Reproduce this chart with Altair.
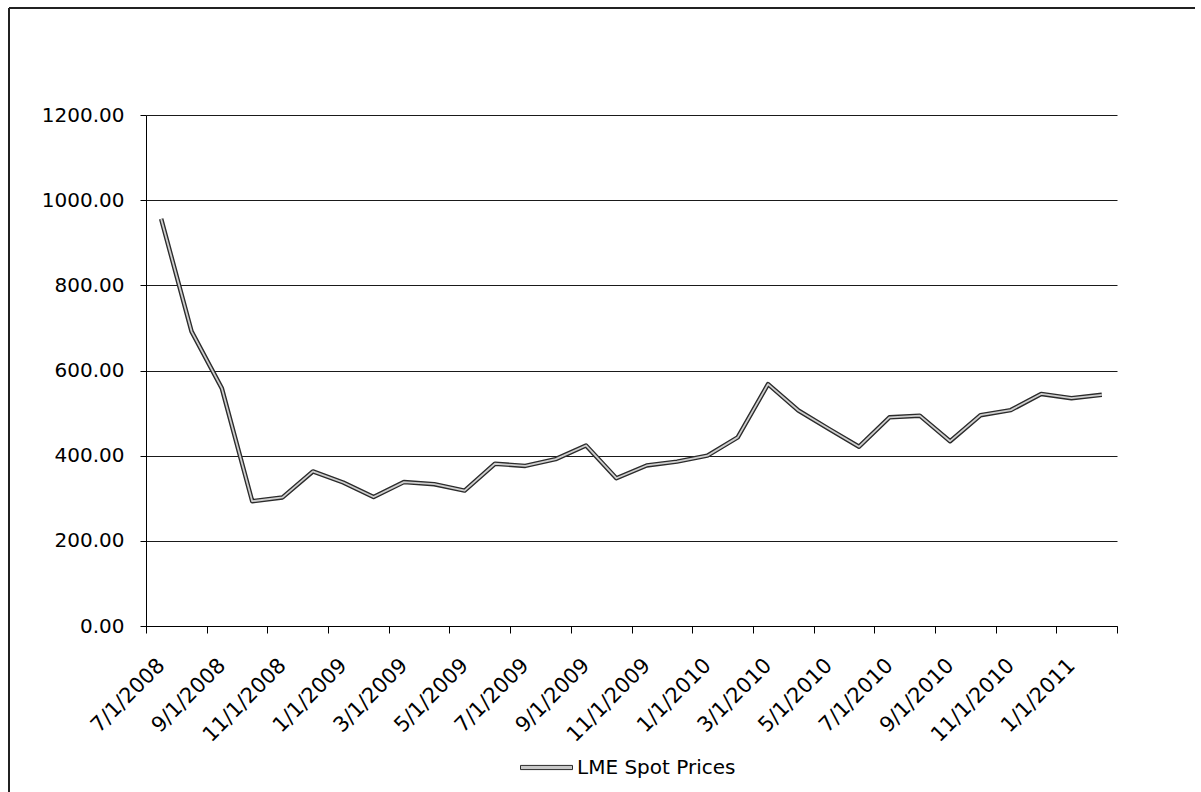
import json
import altair as alt
import pandas as pd

months = ["7/1/2008", "8/1/2008", "9/1/2008", "10/1/2008", "11/1/2008", "12/1/2008",
          "1/1/2009", "2/1/2009", "3/1/2009", "4/1/2009", "5/1/2009", "6/1/2009",
          "7/1/2009", "8/1/2009", "9/1/2009", "10/1/2009", "11/1/2009", "12/1/2009",
          "1/1/2010", "2/1/2010", "3/1/2010", "4/1/2010", "5/1/2010", "6/1/2010",
          "7/1/2010", "8/1/2010", "9/1/2010", "10/1/2010", "11/1/2010", "12/1/2010",
          "1/1/2011", "2/1/2011"]
prices = [956, 692, 558, 293, 302, 363, 337, 303, 338, 333, 318, 381,
          376, 392, 424, 347, 377, 386, 400, 443, 568, 506, 463, 421,
          490, 494, 434, 495, 507, 545, 535, 543]
series_name = "LME Spot Prices"
y_ticks = [0, 200, 400, 600, 800, 1000, 1200]

n = len(months)
df = pd.DataFrame({
    "pos": [i + 0.5 for i in range(n)],
    "month": months,
    "price": prices,
    "series": [series_name] * n,
})

L, T, W, H = 146, 115, 971, 511
FONT = "DejaVu Sans"

x_scale = alt.Scale(domain=[0, n], nice=False, zero=False)
y_scale = alt.Scale(domain=[0, 1200], nice=False)

y_axis = alt.Axis(values=y_ticks, format=".2f", grid=True,
                  gridColor="#1a1a1a", gridWidth=1.2,
                  domainColor="#000", tickColor="#000", tickSize=6,
                  labelFont=FONT, labelFontSize=20, labelColor="#000",
                  labelPadding=16)
y_enc = alt.Y("price:Q", scale=y_scale, title=None, axis=y_axis)

# axis with ticks at category boundaries (every 2 categories)
outer = alt.Chart(df).mark_line(strokeWidth=4.5, strokeJoin="round").encode(
    x=alt.X("pos:Q", scale=x_scale, title=None,
            axis=alt.Axis(values=list(range(0, n + 1, 2)), labels=False, grid=False,
                          domainColor="#000", tickColor="#000", tickSize=7,
                          orient="bottom")),
    y=y_enc,
    stroke=alt.Stroke("series:N", scale=alt.Scale(range=["#2b2b2b"]),
                      legend=alt.Legend(title=None, orient="none",
                                        legendX=374, legendY=626,
                                        symbolType="M-1,-0.08L1,-0.08L1,0.08L-1,0.08Z",
                                        symbolSize=2704, symbolStrokeWidth=1,
                                        symbolFillColor="#c8c8c8",
                                        labelFont=FONT, labelFontSize=20,
                                        labelColor="#000", labelOffset=4,
                                        padding=0)),
)

label_expr = json.dumps(months) + "[floor(datum.value)]"

inner = alt.Chart(df).mark_line(strokeWidth=1.8, color="#cfcfcf", strokeJoin="round").encode(
    x=alt.X("pos:Q", scale=x_scale, title=None,
            axis=alt.Axis(values=[i + 0.5 for i in range(0, n, 2)], labelExpr=label_expr,
                          ticks=False, tickSize=0, domain=False, grid=False,
                          labelAngle=-45, labelAlign="right", labelBaseline="middle",
                          labelFont=FONT, labelFontSize=21, labelColor="#000",
                          labelPadding=36, labelOverlap=False, orient="bottom")),
    y=y_enc,
)

# outer frame of the chart (left and top edges)
frame_left = alt.Chart(df).mark_rule(color="#222", strokeWidth=1.5).encode(
    x=alt.value(9 - L), y=alt.value(8 - T), y2=alt.value(792 - T))
frame_top = alt.Chart(df).mark_rule(color="#222", strokeWidth=1.5).encode(
    x=alt.value(9 - L), x2=alt.value(1195 - L), y=alt.value(8 - T))

chart = alt.layer(outer, inner, frame_left, frame_top).resolve_axis(
    x="independent").properties(
    width=W, height=H,
    autosize=alt.AutoSizeParams(type="none"),
    padding={"left": L, "top": T, "right": 1201 - L - W, "bottom": 792 - T - H},
    background="white",
).configure_view(stroke=None)

chart.save("out.html", embed_options={"renderer": "svg", "actions": False})
